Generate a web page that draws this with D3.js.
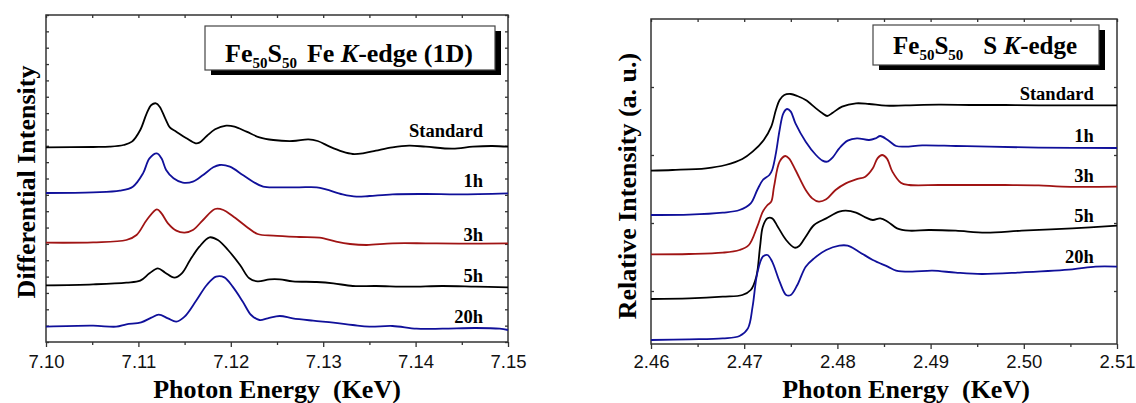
<!DOCTYPE html>
<html>
<head>
<meta charset="utf-8">
<script src="https://cdn.jsdelivr.net/npm/d3@7"></script>
<style>
  body { margin: 0; background: #fff; }
  svg text { font-family: "Liberation Serif", "Times New Roman", serif; }
</style>
</head>
<body>
<svg id="chart" width="1136" height="403"></svg>
<script>
// ---- Fe K-edge (first derivative), energy in KeV, intensity in a.u. ----
var feStandard = [[7.1000,6.28],[7.1051,6.29],[7.1069,6.30],[7.1084,6.35],[7.1093,6.45],[7.1102,6.80],[7.1109,7.30],[7.1114,7.55],[7.1119,7.60],[7.1123,7.50],[7.1129,7.15],[7.1134,6.88],[7.1141,6.75],[7.1152,6.55],[7.1162,6.40],[7.1166,6.42],[7.1174,6.62],[7.1183,6.82],[7.1195,6.93],[7.1204,6.90],[7.1217,6.75],[7.1231,6.58],[7.1246,6.50],[7.1267,6.47],[7.1284,6.52],[7.1294,6.47],[7.1307,6.30],[7.1321,6.15],[7.1332,6.08],[7.1343,6.10],[7.1357,6.18],[7.1375,6.28],[7.1393,6.33],[7.1411,6.30],[7.1440,6.24],[7.1462,6.30],[7.1483,6.32],[7.1500,6.30]]
var fe1h = [[7.1000,4.91],[7.1051,4.93],[7.1080,4.98],[7.1094,5.10],[7.1105,5.50],[7.1112,5.95],[7.1120,6.10],[7.1125,5.95],[7.1130,5.60],[7.1138,5.35],[7.1148,5.22],[7.1159,5.25],[7.1170,5.45],[7.1181,5.68],[7.1188,5.75],[7.1199,5.70],[7.1213,5.45],[7.1224,5.25],[7.1235,5.10],[7.1253,5.08],[7.1274,5.08],[7.1293,5.08],[7.1303,5.02],[7.1321,4.87],[7.1336,4.80],[7.1350,4.82],[7.1375,4.87],[7.1411,4.88],[7.1447,4.87],[7.1500,4.90]]
var fe3h = [[7.1000,3.42],[7.1051,3.43],[7.1087,3.50],[7.1098,3.65],[7.1109,4.10],[7.1120,4.42],[7.1125,4.30],[7.1132,4.00],[7.1141,3.78],[7.1150,3.72],[7.1159,3.80],[7.1170,4.10],[7.1183,4.43],[7.1192,4.40],[7.1202,4.22],[7.1217,3.90],[7.1229,3.68],[7.1246,3.63],[7.1274,3.59],[7.1296,3.57],[7.1314,3.45],[7.1329,3.38],[7.1347,3.35],[7.1375,3.40],[7.1411,3.40],[7.1447,3.39],[7.1500,3.40]]
var fe5h = [[7.1000,2.14],[7.1051,2.17],[7.1087,2.22],[7.1102,2.28],[7.1112,2.50],[7.1121,2.65],[7.1129,2.52],[7.1139,2.37],[7.1147,2.50],[7.1156,2.90],[7.1166,3.30],[7.1177,3.58],[7.1186,3.50],[7.1197,3.20],[7.1210,2.75],[7.1220,2.35],[7.1229,2.26],[7.1242,2.32],[7.1253,2.32],[7.1267,2.26],[7.1293,2.24],[7.1311,2.20],[7.1332,2.12],[7.1357,2.12],[7.1393,2.10],[7.1429,2.12],[7.1465,2.10],[7.1500,2.08]]
var fe20h = [[7.1000,0.90],[7.1051,0.93],[7.1076,0.90],[7.1087,0.97],[7.1103,1.03],[7.1114,1.17],[7.1122,1.26],[7.1132,1.15],[7.1141,1.05],[7.1150,1.20],[7.1163,1.70],[7.1174,2.15],[7.1184,2.40],[7.1193,2.38],[7.1202,2.10],[7.1213,1.65],[7.1222,1.25],[7.1231,1.10],[7.1240,1.15],[7.1253,1.22],[7.1267,1.15],[7.1289,1.08],[7.1311,1.02],[7.1332,0.95],[7.1350,0.90],[7.1375,0.92],[7.1401,0.84],[7.1429,0.84],[7.1465,0.86],[7.1491,0.84],[7.1500,0.80]]

// ---- S K-edge ----
var sStandard = [[2.4600,6.28],[2.4623,6.30],[2.4659,6.35],[2.4680,6.45],[2.4698,6.63],[2.4709,6.85],[2.4721,7.20],[2.4729,7.60],[2.4734,8.10],[2.4738,8.40],[2.4743,8.55],[2.4750,8.58],[2.4757,8.52],[2.4766,8.40],[2.4777,8.15],[2.4784,8.00],[2.4789,7.92],[2.4795,8.02],[2.4805,8.20],[2.4820,8.30],[2.4834,8.28],[2.4852,8.23],[2.4873,8.24],[2.4909,8.26],[2.4945,8.25],[2.4980,8.25],[2.5016,8.24],[2.5100,8.24]]
var s1h = [[2.4600,4.95],[2.4641,4.96],[2.4677,5.02],[2.4695,5.10],[2.4707,5.30],[2.4714,5.70],[2.4720,6.00],[2.4727,6.15],[2.4730,6.30],[2.4734,6.80],[2.4738,7.50],[2.4742,8.00],[2.4746,8.13],[2.4750,8.05],[2.4755,7.70],[2.4766,7.15],[2.4777,6.75],[2.4784,6.58],[2.4789,6.55],[2.4795,6.68],[2.4802,6.95],[2.4811,7.18],[2.4821,7.25],[2.4834,7.20],[2.4841,7.25],[2.4846,7.32],[2.4854,7.20],[2.4863,7.02],[2.4873,7.00],[2.4891,7.04],[2.4927,7.02],[2.4963,7.00],[2.5016,6.97],[2.5100,6.96]]
var s3h = [[2.4600,3.77],[2.4641,3.78],[2.4677,3.82],[2.4695,3.90],[2.4705,4.05],[2.4714,4.60],[2.4720,5.05],[2.4725,5.25],[2.4729,5.35],[2.4732,5.80],[2.4738,6.55],[2.4744,6.72],[2.4748,6.65],[2.4755,6.30],[2.4766,5.70],[2.4773,5.45],[2.4780,5.35],[2.4788,5.42],[2.4798,5.70],[2.4809,5.90],[2.4820,6.02],[2.4830,6.10],[2.4838,6.35],[2.4843,6.65],[2.4848,6.75],[2.4853,6.65],[2.4859,6.25],[2.4868,5.92],[2.4877,5.85],[2.4909,5.85],[2.4945,5.85],[2.4980,5.85],[2.5016,5.84],[2.5041,5.80],[2.5100,5.80]]
var s5h = [[2.4600,2.43],[2.4641,2.45],[2.4677,2.50],[2.4698,2.55],[2.4707,2.70],[2.4713,3.10],[2.4717,4.00],[2.4720,4.60],[2.4725,4.85],[2.4730,4.85],[2.4736,4.60],[2.4745,4.20],[2.4754,3.97],[2.4759,4.02],[2.4766,4.30],[2.4775,4.65],[2.4788,4.85],[2.4802,5.05],[2.4809,5.08],[2.4820,5.02],[2.4830,4.88],[2.4838,4.80],[2.4846,4.85],[2.4854,4.75],[2.4864,4.55],[2.4877,4.48],[2.4898,4.50],[2.4927,4.48],[2.4959,4.42],[2.4998,4.48],[2.5052,4.55],[2.5100,4.63]]
var s20h = [[2.4600,1.20],[2.4641,1.22],[2.4677,1.25],[2.4695,1.32],[2.4704,1.55],[2.4709,2.20],[2.4714,3.20],[2.4720,3.70],[2.4725,3.75],[2.4730,3.55],[2.4738,2.95],[2.4745,2.55],[2.4750,2.55],[2.4757,2.85],[2.4766,3.40],[2.4775,3.65],[2.4788,3.90],[2.4802,4.03],[2.4811,4.03],[2.4823,3.85],[2.4838,3.60],[2.4854,3.40],[2.4863,3.28],[2.4880,3.25],[2.4902,3.28],[2.4927,3.22],[2.4955,3.18],[2.4998,3.23],[2.5052,3.32],[2.5077,3.40],[2.5100,3.40]]

var seriesNames = ["Standard", "1h", "3h", "5h", "20h"]
var feTicks = [7.10, 7.11, 7.12, 7.13, 7.14, 7.15]
var feMinor = [7.105, 7.115, 7.125, 7.135, 7.145]
var sTicks = [2.46, 2.47, 2.48, 2.49, 2.50, 2.51]
var sMinor = [2.465, 2.475, 2.485, 2.495, 2.505]
var feYTicks = d3.range(21).map(i => 0.44 + i * 0.4905)
var sYTicks = [2.67, 4.71, 6.75, 8.79]

var colors = ["#000000", "#10109a", "#a01414", "#000000", "#10109a"]

var svg = d3.select("#chart")

function drawPanel(p) {
    var x = d3.scaleLinear().domain(p.xDomain).range([p.left, p.right])
    var y = d3.scaleLinear().domain(p.yDomain).range([p.bottom, p.top])
    var g = svg.append("g")

    // bottom axis, labelled majors + minors
    var bot = g.append("g").attr("transform", "translate(0," + p.bottom + ")")
        .call(d3.axisBottom(x).tickValues(p.xTicks).tickSize(5).tickFormat(d3.format(".2f")))
    bot.selectAll("text").attr("y", 368 - p.bottom).attr("dy", 0)
        .style("font-family", "'Liberation Sans', Arial, sans-serif")
        .style("font-size", "18.5px").attr("fill", "#111")
    g.append("g").attr("transform", "translate(0," + p.bottom + ")")
        .call(d3.axisBottom(x).tickValues(p.xMinor).tickSize(3).tickFormat(""))
    g.append("g").attr("transform", "translate(0," + p.top + ")")
        .call(d3.axisTop(x).tickValues(p.xTicks.concat(p.xMinor)).tickSize(-3).tickFormat(""))
    g.append("g").attr("transform", "translate(" + p.left + ",0)")
        .call(d3.axisLeft(y).tickValues(p.yTicks).tickSize(-3).tickFormat(""))
    g.append("g").attr("transform", "translate(" + p.right + ",0)")
        .call(d3.axisRight(y).tickValues(p.yTicks).tickSize(-3).tickFormat(""))
    g.selectAll(".domain").remove()
    g.selectAll(".tick line").attr("stroke", "#333").attr("stroke-width", 1.3)

    g.append("rect")
        .attr("x", p.left).attr("y", p.top)
        .attr("width", p.right - p.left).attr("height", p.bottom - p.top)
        .attr("fill", "none").attr("stroke", "#333").attr("stroke-width", 1.5)

    var line = d3.line()
        .x(d => x(d[0]))
        .y(d => y(d[1]))
        .curve(d3.curveCatmullRom.alpha(0.5))

    p.series.forEach(function(s, i) {
        g.append("path").datum(s)
            .attr("d", line)
            .attr("fill", "none")
            .attr("stroke", colors[i])
            .attr("stroke-width", 1.8)
        g.append("text")
            .attr("x", x(p.labelX)).attr("y", y(p.labelY[i]))
            .attr("text-anchor", "end")
            .style("font-size", "18.5px").style("font-weight", "bold")
            .text(seriesNames[i])
    })

    // title box with drop shadow
    var b = p.box
    g.append("rect").attr("x", b.x + 6).attr("y", b.y + 5).attr("width", b.w).attr("height", b.h).attr("fill", "#000")
    g.append("rect").attr("x", b.x).attr("y", b.y).attr("width", b.w).attr("height", b.h)
        .attr("fill", "#fff").attr("stroke", "#444").attr("stroke-width", 1.2)
    var t = g.append("text").attr("x", b.tx).attr("y", b.ty)
        .style("font-weight", "bold").style("font-size", b.fs + "px")
    t.append("tspan").text("Fe")
    t.append("tspan").attr("dy", 6).style("font-size", b.sub + "px").text("50")
    t.append("tspan").attr("dy", -6).text("S")
    t.append("tspan").attr("dy", 6).style("font-size", b.sub + "px").text("50")
    t.append("tspan").attr("dy", -6).attr("dx", b.gap).text(b.element + " ")
    t.append("tspan").style("font-style", "italic").text("K")
    t.append("tspan").text(b.rest)

    svg.append("text")
        .attr("x", p.xTitleX).attr("y", 398)
        .attr("text-anchor", "middle")
        .style("font-size", "26px").style("font-weight", "bold")
        .text("Photon Energy\u00a0\u00a0(KeV)")
    svg.append("text")
        .attr("transform", "translate(" + p.yTitleX + "," + p.yTitleY + ") rotate(-90)")
        .attr("text-anchor", "middle")
        .style("font-size", "26px").style("font-weight", "bold")
        .text(p.yTitle)
}

drawPanel({
    left: 46, right: 508, top: 15, bottom: 342,
    xDomain: [7.10, 7.15], yDomain: [0.44, 10.25],
    xTicks: feTicks, xMinor: feMinor, yTicks: feYTicks,
    series: [feStandard, fe1h, fe3h, fe5h, fe20h],
    labelX: 7.1473, labelY: [6.60, 5.09, 3.48, 2.25, 1.00],
    box: { x: 205, y: 26, w: 290, h: 44, tx: 225, ty: 62, fs: 26, sub: 15, gap: 10, element: "Fe", rest: "-edge (1D)" },
    xTitleX: 277, yTitle: "Differential Intensity", yTitleX: 35, yTitleY: 182
})

drawPanel({
    left: 651, right: 1117, top: 19, bottom: 344,
    xDomain: [2.46, 2.51], yDomain: [1.08, 10.83],
    xTicks: sTicks, xMinor: sMinor, yTicks: sYTicks,
    series: [sStandard, s1h, s3h, s5h, s20h],
    labelX: 2.5075, labelY: [8.40, 7.15, 5.95, 4.75, 3.50],
    box: { x: 873, y: 25, w: 226, h: 40, tx: 893, ty: 54, fs: 25, sub: 15, gap: 20, element: "S", rest: "-edge" },
    xTitleX: 906, yTitle: "Relative Intensity (a. u.)", yTitleX: 636, yTitleY: 186
})
</script>
</body>
</html>
